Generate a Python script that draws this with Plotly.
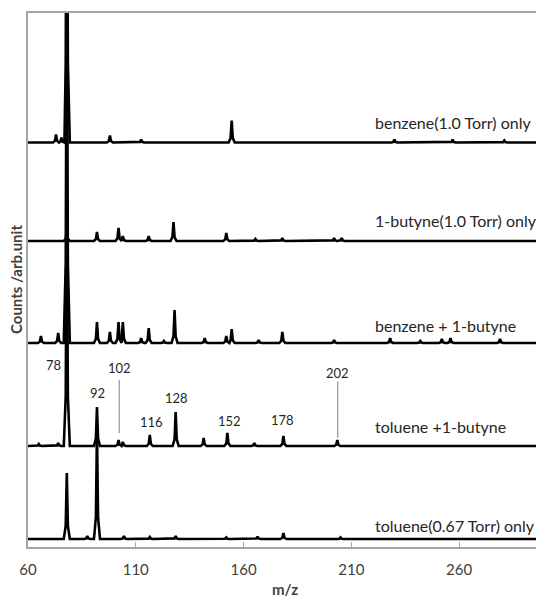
import plotly.graph_objects as go

# ---- data (peak positions m/z and peak heights, arbitrary units) ----
names = ["benzene(1.0 Torr) only", "1-butyne(1.0 Torr) only", "benzene + 1-butyne",
         "toluene +1-butyne", "toluene(0.67 Torr) only"]
offsets = [404.5, 306, 204, 101, 8]

mz_benzene = [73, 75.5, 78, 98, 112.5, 154.5, 230, 257, 281]
h_benzene = [8, 5, 400, 7, 3, 22, 3, 3, 2]

mz_butyne = [78, 92, 102, 104, 116, 127.5, 152, 165.5, 178, 202, 205.5]
h_butyne = [10, 9, 13, 5, 5, 19, 8, 2, 3, 3, 3]

mz_benz_but = [66, 74, 78, 92, 98, 102, 104, 112.5, 116, 123, 128, 142, 152, 154.5,
               167, 178, 202, 228, 242, 252, 256, 279]
h_benz_but = [7, 10, 400, 21, 11, 21, 21, 5, 15, 2, 33, 5, 7, 14,
              3, 11, 3, 5, 2, 4, 5, 4]

mz_tol_but = [65, 74, 78, 92, 102, 104, 116.5, 128.5, 141.5, 152.5, 165, 178.5, 203.5]
h_tol_but = [2, 3, 250, 39, 6, 4, 11, 34, 8, 13, 3, 10, 6]

mz_toluene = [78, 87.5, 92, 104.5, 116.5, 128.5, 152, 166.5, 178.5, 205]
h_toluene = [66, 3, 110, 3, 2, 3, 1.5, 2.5, 6, 1.5]

peaks = [(mz_benzene, h_benzene), (mz_butyne, h_butyne), (mz_benz_but, h_benz_but),
         (mz_tol_but, h_tol_but), (mz_toluene, h_toluene)]

label_y = [425, 327, 222, 121, 22]

peak_labels = ["78", "92", "102", "116", "128", "152", "178", "202"]
peak_label_x = [71.6, 92.1, 102.3, 117.3, 128.8, 153.5, 178.2, 203.4]
peak_label_y = [182, 154, 178.7, 125.3, 148.7, 126.3, 127, 174.3]

X_MIN, X_MAX = 60, 298
tick_vals = [60, 110, 160, 210, 260]

FONT = "Lato"
GRAY = "#a6a6a6"
TXT = "#404040"


def build_line(mz, h, off):
    xs, ys = [X_MIN], [off]
    for m, v in sorted(zip(mz, h)):
        shape = [(m - 1.4, 0), (m - 0.5, 0.2 * v), (m, v), (m + 0.5, 0.2 * v), (m + 1.4, 0)]
        for px, py in shape:
            if px > xs[-1]:
                xs.append(px)
                ys.append(off + py)
    xs.append(X_MAX)
    ys.append(off)
    return xs, ys


fig = go.Figure()
for (mz, h), off, nm in zip(peaks, offsets, names):
    xs, ys = build_line(mz, h, off)
    fig.add_trace(go.Scatter(x=xs, y=ys, mode="lines", name=nm,
                             line=dict(color="black", width=2.6), showlegend=False))

annotations = []
for nm, ly in zip(names, label_y):
    annotations.append(dict(x=220.2, y=ly, xref="x", yref="y", text=nm, showarrow=False,
                            xanchor="left", yanchor="middle",
                            font=dict(family=FONT, size=16, color="#262626")))
for t, px, py in zip(peak_labels, peak_label_x, peak_label_y):
    annotations.append(dict(x=px, y=py, xref="x", yref="y", text=t, showarrow=False,
                            xanchor="center", yanchor="middle",
                            font=dict(family=FONT, size=13, color="#262626")))
annotations.append(dict(x=0.5, y=0, xref="paper", yref="paper", yshift=-42, text="<b>m/z</b>",
                        showarrow=False, xanchor="center", yanchor="middle",
                        font=dict(family=FONT, size=15, color=TXT)))
annotations.append(dict(x=0, y=0.5, xref="paper", yref="paper", xshift=-12,
                        text="<b>Counts /arb.unit</b>", textangle=-90, showarrow=False,
                        xanchor="center", yanchor="middle",
                        font=dict(family=FONT, size=15, color=TXT)))

shapes = [
    dict(type="line", xref="x", yref="y", x0=102.3, x1=102.3, y0=167, y1=114,
         line=dict(color="#7f7f7f", width=1)),
    dict(type="line", xref="x", yref="y", x0=203.7, x1=203.7, y0=165.3, y1=109,
         line=dict(color="#7f7f7f", width=1)),
]

# page body has an 8px margin, so the figure is 8px smaller than the window
fig.update_layout(
    width=536, height=590,
    margin=dict(l=20, r=1, t=5, b=51),
    paper_bgcolor="white", plot_bgcolor="white",
    annotations=annotations, shapes=shapes,
    xaxis=dict(range=[X_MIN, X_MAX], tickvals=tick_vals, ticks="inside", ticklen=5,
               tickcolor=GRAY, showline=True, linecolor=GRAY, linewidth=1.5, mirror=True,
               showgrid=False, zeroline=False, ticklabelstandoff=8,
               tickfont=dict(family=FONT, size=15, color=TXT)),
    yaxis=dict(range=[0, 534], showticklabels=False, ticks="", showline=True,
               linecolor=GRAY, linewidth=1.5, mirror=True, showgrid=False, zeroline=False),
)

fig.write_html("out.html")
